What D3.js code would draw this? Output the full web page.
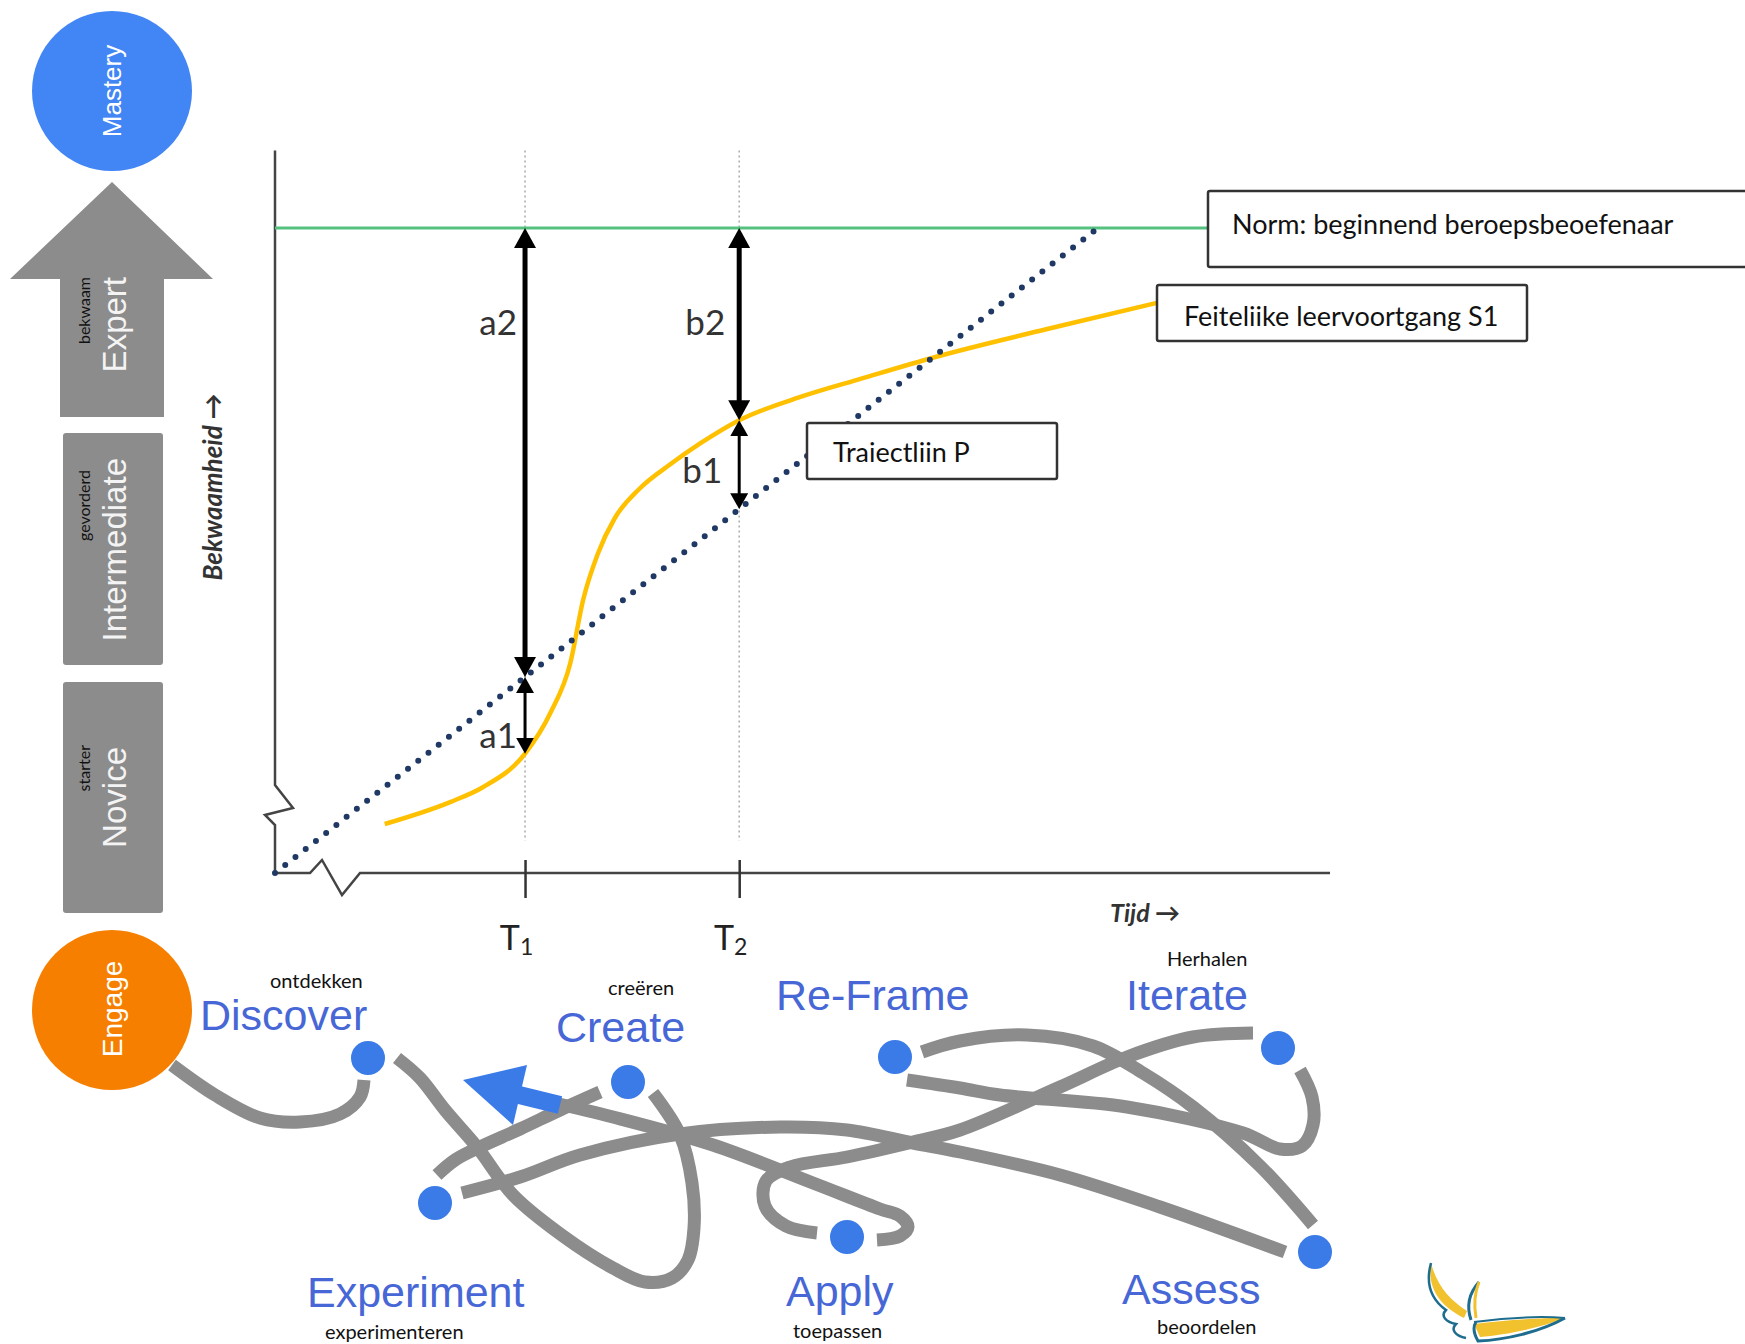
<!DOCTYPE html>
<html lang="nl">
<head>
<meta charset="UTF-8">
<title>Bekwaamheid en leervoortgang</title>
<script src="https://cdn.jsdelivr.net/npm/d3@7"></script>
<style>
  html, body { margin: 0; padding: 0; background: #fff; }
  svg { display: block; }
  .sans { font-family: "Liberation Sans", Arial, sans-serif; }
  .cal { font-family: Lato, "Open Sans", sans-serif; }
</style>
</head>
<body>
<svg id="chart" width="1745" height="1344"></svg>
<script>
// ---- data ----
const timeTicks = [23.7, 44];          // T1, T2
const timeSubs = ["1", "2"];
const normLevel = 100;                 // norm: beginnend beroepsbeoefenaar
const trajectoryP = [[0, 0], [78, 100]];
const progressS1 = [
  [10.4, 7.6], [16.6, 11.0], [19.7, 13.3], [23.7, 18.5], [26.1, 24.8],
  [28, 32.6], [29.2, 42.3], [30.6, 49.5], [32.2, 55], [34.5, 59.5],
  [37.5, 63.4], [40.3, 66.6], [44, 70.2], [49.8, 73.8], [55.5, 76.6],
  [62.6, 80.0], [73.1, 84.3], [83.6, 88.4]
];
const boxTexts = ["Norm: beginnend beroepsbeoefenaar", "Feiteliike leervoortgang S1", "Traiectliin P"];
const levels = ["Novice", "Intermediate", "Expert"];
const levelsNl = ["starter", "gevorderd", "bekwaam"];
const steps = ["Discover", "Create", "Re-Frame", "Iterate", "Experiment", "Apply", "Assess"];
const stepsNl = ["ontdekken", "creëren", "", "Herhalen", "experimenteren", "toepassen", "beoordelen"];

// ---- layout ----
const svg = d3.select("#chart");
const x = d3.scaleLinear().domain([0, 100]).range([275, 1330]);
const y = d3.scaleLinear().domain([0, 100]).range([873, 228]);
const yTop = 112;

const pAt = d3.scaleLinear().domain(trajectoryP.map(d => d[0])).range(trajectoryP.map(d => d[1]));
const sAt = t => progressS1.find(d => d[0] === t)[1];

// markers for the gap arrows
const defs = svg.append("defs");
[["big", 22, 20, 6], ["small", 18, 16, 5]].forEach(([id, w, l, ref]) => {
  defs.append("marker")
      .attr("id", "head-" + id)
      .attr("markerUnits", "userSpaceOnUse")
      .attr("viewBox", `0 ${-w / 2} ${l} ${w}`)
      .attr("refX", ref).attr("refY", 0)
      .attr("markerWidth", l).attr("markerHeight", w)
      .attr("orient", "auto-start-reverse")
    .append("path")
      .attr("d", `M0,${-w / 2}L${l},0L0,${w / 2}Z`)
      .attr("fill", "#000");
});

// vertical guide lines at T1, T2
svg.append("g").selectAll("line")
  .data(timeTicks)
  .join("line")
    .attr("x1", d => x(d)).attr("x2", d => x(d))
    .attr("y1", y(yTop)).attr("y2", y(5))
    .attr("stroke", "#aaa").attr("stroke-width", 1.5)
    .attr("stroke-dasharray", "2 3");

// axes with break symbols
const x0 = x(0), y0 = y(0);
const axisPts = [
  [x0, y(yTop)], [x0, y0 - 88], [x0 + 18, y0 - 65], [x0 - 10, y0 - 58], [x0, y0 - 48],
  [x0, y0], [x0 + 35, y0], [x0 + 47, y0 - 13], [x0 + 67, y0 + 22], [x0 + 85, y0], [x(100), y0]
];
svg.append("path")
    .attr("d", d3.line()(axisPts))
    .attr("fill", "none").attr("stroke", "#444").attr("stroke-width", 2.5);

const xAxis = svg.append("g")
    .attr("transform", `translate(0,${y0})`)
    .call(d3.axisBottom(x).tickValues(timeTicks).tickSize(25).tickFormat(""));
xAxis.select(".domain").remove();
xAxis.selectAll(".tick line").attr("y1", -13).attr("stroke", "#333").attr("stroke-width", 2.5);
xAxis.selectAll(".tick text").remove();
xAxis.selectAll(".tick").append("text")
    .attr("class", "cal")
    .attr("x", -9).attr("y", 77)
    .attr("text-anchor", "middle")
    .attr("fill", "#222").attr("font-size", 34)
    .each(function(d, i) {
      const t = d3.select(this);
      t.append("tspan").text("T");
      t.append("tspan").attr("font-size", 23).attr("dy", 5).text(timeSubs[i]);
    });

// axis titles
svg.append("text")
    .attr("class", "cal")
    .attr("transform", `translate(222,487) rotate(-90)`)
    .attr("text-anchor", "middle")
    .attr("font-size", 26).attr("font-style", "italic").attr("font-weight", 700)
    .attr("fill", "#333")
    .text("Bekwaamheid →");
svg.append("text")
    .attr("class", "cal")
    .attr("x", 1110).attr("y", 922)
    .attr("font-size", 25).attr("font-style", "italic").attr("font-weight", 700)
    .attr("fill", "#333")
    .text("Tijd →");

// norm line
const boxes = [
  { x: 1208, y: 191, w: 560, h: 76, tx: 1232, ty: 234 },
  { x: 1157, y: 285, w: 370, h: 56, tx: 1184, ty: 326 },
  { x: 807, y: 423, w: 250, h: 56, tx: 833, ty: 462 }
];
svg.append("line")
    .attr("x1", x(0)).attr("x2", boxes[0].x)
    .attr("y1", y(normLevel)).attr("y2", y(normLevel))
    .attr("stroke", "#55c17f").attr("stroke-width", 3);

// actual progress S1
svg.append("path")
    .datum(progressS1)
    .attr("d", d3.line().x(d => x(d[0])).y(d => y(d[1])).curve(d3.curveMonotoneX))
    .attr("fill", "none").attr("stroke", "#ffc000").attr("stroke-width", 4.5);

// trajectory P (dotted)
svg.append("path")
    .datum(trajectoryP)
    .attr("d", d3.line().x(d => x(d[0])).y(d => y(d[1])))
    .attr("fill", "none").attr("stroke", "#1f3864").attr("stroke-width", 6)
    .attr("stroke-linecap", "round").attr("stroke-dasharray", "0 13");

// gap arrows
const T1 = timeTicks[0], T2 = timeTicks[1];
const gaps = [
  { label: "a2", t: T1, from: normLevel, to: pAt(T1), big: true, ly: 335, dx: -8 },
  { label: "a1", t: T1, from: pAt(T1), to: sAt(T1), big: false, ly: 748, dx: -8 },
  { label: "b2", t: T2, from: normLevel, to: sAt(T2), big: true, ly: 335, dx: -14 },
  { label: "b1", t: T2, from: sAt(T2), to: pAt(T2), big: false, ly: 483, dx: -17 }
];
const gapG = svg.append("g");
gapG.selectAll("text")
  .data(gaps)
  .join("text")
    .attr("class", "cal")
    .attr("x", d => x(d.t) + d.dx).attr("y", d => d.ly)
    .attr("text-anchor", "end")
    .attr("font-size", 35).attr("fill", "#333")
    .text(d => d.label);
gapG.selectAll("line")
  .data(gaps)
  .join("line")
    .attr("x1", d => x(d.t)).attr("x2", d => x(d.t))
    .attr("y1", d => y(d.from) + (d.big ? 14 : 11))
    .attr("y2", d => y(d.to) - (d.big ? 14 : 11))
    .attr("stroke", "#000")
    .attr("stroke-width", d => d.big ? 5 : 3)
    .attr("marker-start", d => `url(#head-${d.big ? "big" : "small"})`)
    .attr("marker-end", d => `url(#head-${d.big ? "big" : "small"})`);

// label boxes
const boxG = svg.append("g").selectAll("g")
  .data(boxes)
  .join("g");
boxG.append("rect")
    .attr("x", d => d.x).attr("y", d => d.y)
    .attr("width", d => d.w).attr("height", d => d.h)
    .attr("rx", 2)
    .attr("fill", "#fff").attr("stroke", "#333").attr("stroke-width", 2.5);
boxG.append("text")
    .attr("class", "cal")
    .attr("x", d => d.tx).attr("y", d => d.ty)
    .attr("font-size", 27).attr("fill", "#111")
    .text((d, i) => boxTexts[i]);

// ---- left column: levels ----
const grey = "#8c8c8c";
const left = svg.append("g");
left.append("circle").attr("cx", 112).attr("cy", 91).attr("r", 80).attr("fill", "#4285f4");
left.append("text")
    .attr("class", "sans")
    .attr("transform", "translate(121,91) rotate(-90)")
    .attr("text-anchor", "middle").attr("font-size", 26).attr("fill", "#fff")
    .text("Mastery");

left.append("path")
    .attr("d", "M112,182L213,279L164,279L164,417L60,417L60,279L10,279Z")
    .attr("fill", grey);
left.selectAll("rect.level")
  .data([[63, 682, 100, 231], [63, 433, 100, 232]])
  .join("rect")
    .attr("class", "level")
    .attr("x", d => d[0]).attr("y", d => d[1])
    .attr("width", d => d[2]).attr("height", d => d[3])
    .attr("rx", 3).attr("fill", grey);

const levelTop = [[747, 745], [458, 470], [277, 277]];
levels.forEach((name, i) => {
  left.append("text")
      .attr("class", "sans")
      .attr("transform", `translate(126,${levelTop[i][0]}) rotate(-90)`)
      .attr("text-anchor", "end").attr("font-size", 33).attr("fill", "#f4f4f4")
      .text(name);
  left.append("text")
      .attr("class", "cal")
      .attr("transform", `translate(90,${levelTop[i][1]}) rotate(-90)`)
      .attr("text-anchor", "end").attr("font-size", 16).attr("fill", "#111")
      .text(levelsNl[i]);
});

// ---- bottom: design cycle ----
const stepPos = {
  "Discover":   { node: [368, 1058], label: [200, 1030], sub: [270, 988] },
  "Create":     { node: [628, 1082], label: [556, 1042], sub: [608, 995] },
  "Re-Frame":   { node: [895, 1057], label: [776, 1010], sub: [0, 0] },
  "Iterate":    { node: [1278, 1048], label: [1126, 1010], sub: [1167, 966] },
  "Experiment": { node: [435, 1203], label: [307, 1307], sub: [325, 1339] },
  "Apply":      { node: [847, 1237], label: [786, 1306], sub: [793, 1338] },
  "Assess":     { node: [1315, 1252], label: [1122, 1304], sub: [1157, 1334] }
};

const strands = [
  [[172, 1065], [215, 1095], [260, 1118], [300, 1122], [340, 1114], [360, 1097], [364, 1080]],
  [[397, 1058], [420, 1078], [445, 1110], [477, 1147], [513, 1195], [563, 1236], [613, 1268],
   [645, 1282], [672, 1278], [688, 1260], [694, 1228], [692, 1183], [680, 1135], [653, 1093]],
  [[877, 1240], [900, 1236], [908, 1227], [900, 1216], [880, 1209], [813, 1183], [713, 1145],
   [613, 1117], [550, 1102]],
  [[600, 1092], [560, 1110], [520, 1129], [480, 1147], [455, 1160], [437, 1175]],
  [[462, 1193], [520, 1177], [580, 1155], [680, 1134], [780, 1127], [847, 1130], [913, 1143],
   [960, 1152], [1060, 1175], [1160, 1207], [1285, 1252]],
  [[922, 1052], [960, 1041], [1027, 1035], [1093, 1046], [1143, 1073], [1193, 1107],
   [1260, 1166], [1313, 1225]],
  [[907, 1080], [960, 1088], [1000, 1095], [1127, 1107], [1243, 1133], [1280, 1149],
   [1302, 1146], [1313, 1125], [1312, 1097], [1300, 1070]],
  [[1253, 1033], [1193, 1037], [1127, 1057], [1060, 1087], [960, 1130], [913, 1142],
   [847, 1157], [790, 1167], [766, 1181], [765, 1206], [786, 1226], [817, 1233]]
];

const cycle = svg.append("g");
cycle.append("circle").attr("cx", 112).attr("cy", 1010).attr("r", 80).attr("fill", "#f77f00");
cycle.append("text")
    .attr("class", "sans")
    .attr("transform", "translate(122,1009) rotate(-90)")
    .attr("text-anchor", "middle").attr("font-size", 28).attr("fill", "#fff")
    .text("Engage");

cycle.selectAll("path.strand")
  .data(strands)
  .join("path")
    .attr("class", "strand")
    .attr("d", d3.line().curve(d3.curveCatmullRom.alpha(0.5)))
    .attr("fill", "none").attr("stroke", grey).attr("stroke-width", 13);

// blue direction arrow
cycle.append("line")
    .attr("x1", 560).attr("y1", 1105).attr("x2", 515).attr("y2", 1094)
    .attr("stroke", "#3b7be8").attr("stroke-width", 18);
cycle.append("path")
    .attr("d", "M463,1080L527,1065L513,1125Z")
    .attr("fill", "#3b7be8");

cycle.selectAll("circle.node")
  .data(steps)
  .join("circle")
    .attr("class", "node")
    .attr("cx", d => stepPos[d].node[0]).attr("cy", d => stepPos[d].node[1])
    .attr("r", 19)
    .attr("fill", "#3b7be8").attr("stroke", "#fff").attr("stroke-width", 4);

cycle.selectAll("text.step")
  .data(steps)
  .join("text")
    .attr("class", "step sans")
    .attr("x", d => stepPos[d].label[0]).attr("y", d => stepPos[d].label[1])
    .attr("font-size", 43).attr("fill", "#4767d6")
    .text(d => d);

cycle.selectAll("text.stepnl")
  .data(steps.filter((d, i) => stepsNl[i]))
  .join("text")
    .attr("class", "stepnl cal")
    .attr("x", d => stepPos[d].sub[0]).attr("y", d => stepPos[d].sub[1])
    .attr("font-size", 20).attr("fill", "#111")
    .text(d => stepsNl[steps.indexOf(d)]);

// ---- logo ----
const logo = svg.append("g");
logo.append("path")
    .attr("d", "M1431,1263C1427,1288 1440,1306 1464,1318L1467,1311C1450,1300 1437,1286 1431,1263Z")
    .attr("fill", "#f2c12e");
logo.append("path")
    .attr("d", "M1431,1263C1425,1285 1432,1300 1446,1310C1440,1316 1446,1322 1456,1324C1450,1330 1456,1336 1466,1338")
    .attr("fill", "none").attr("stroke", "#1f6d8e").attr("stroke-width", 2.5);
logo.append("path")
    .attr("d", "M1479,1282C1470,1292 1466,1305 1471,1320")
    .attr("fill", "none").attr("stroke", "#1f6d8e").attr("stroke-width", 3);
logo.append("path")
    .attr("d", "M1479,1282C1474,1294 1474,1306 1476,1318")
    .attr("fill", "none").attr("stroke", "#f2c12e").attr("stroke-width", 3);
logo.append("path")
    .attr("d", "M1474,1324C1505,1320 1540,1318 1565,1318C1540,1328 1505,1335 1480,1337Z")
    .attr("fill", "#f2c12e");
logo.append("path")
    .attr("d", "M1474,1322C1505,1318 1540,1316 1565,1318")
    .attr("fill", "none").attr("stroke", "#1f6d8e").attr("stroke-width", 2);
logo.append("path")
    .attr("d", "M1565,1318C1540,1332 1505,1340 1478,1341C1474,1334 1472,1328 1476,1322")
    .attr("fill", "none").attr("stroke", "#1f6d8e").attr("stroke-width", 3);
</script>
</body>
</html>
